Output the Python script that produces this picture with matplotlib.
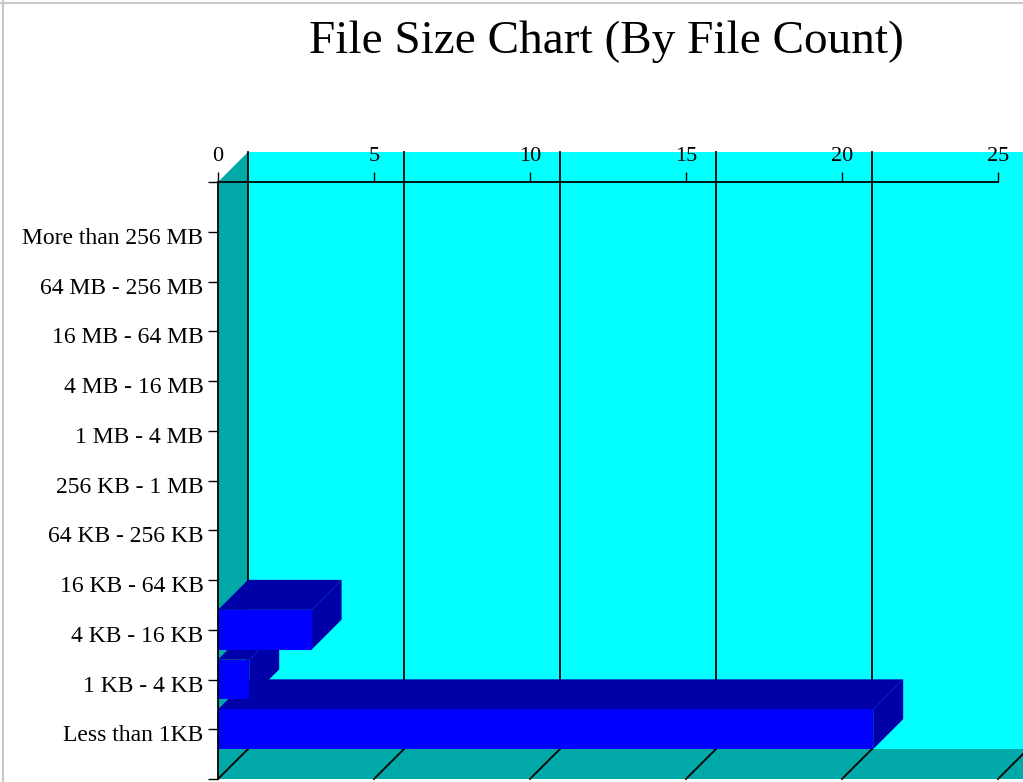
import matplotlib
matplotlib.use('Agg')
import matplotlib.pyplot as plt
import matplotlib.transforms as mtransforms
from matplotlib.patches import Polygon, Rectangle
from matplotlib.lines import Line2D

categories = ['Less than 1KB', '1 KB - 4 KB', '4 KB - 16 KB', '16 KB - 64 KB',
              '64 KB - 256 KB', '256 KB - 1 MB', '1 MB - 4 MB', '4 MB - 16 MB',
              '16 MB - 64 MB', '64 MB - 256 MB', 'More than 256 MB']
counts = [21, 1, 3, 0, 0, 0, 0, 0, 0, 0, 0]
x_ticks = [0, 5, 10, 15, 20, 25]

WALL = '#00FFFF'
SIDE = '#00A8A8'
FRONT = '#0000FF'
SHADE = '#0000A8'

plt.rcParams['font.family'] = ['Liberation Serif', 'DejaVu Serif']

W, H = 1023, 782
fig = plt.figure(figsize=(W / 100, H / 100), dpi=100)
fig.patch.set_facecolor('white')

# front plane of the plot in pixels
left, right, top, bottom = 218, 998, 182, 779
ax = fig.add_axes([left / W, (H - bottom) / H, (right - left) / W, (bottom - top) / H])
ax.patch.set_visible(False)
ax.set_xlim(0, 25)
ax.set_ylim(0, 12)

# depth offset: 30 px right and 30 px up, in data units
dx = 30 / ((right - left) / 25)
dy = 30 / ((bottom - top) / 12)
xmax = 27

# back wall, side wall, floor
ax.add_patch(Rectangle((dx, dy), xmax, 12, facecolor=WALL, edgecolor='none',
                       clip_on=False, zorder=0))
ax.add_patch(Polygon([(0, 0), (dx, dy), (dx, 12 + dy), (0, 12)], closed=True,
                     facecolor=SIDE, edgecolor='none', clip_on=False, zorder=0.5))
ax.add_patch(Polygon([(0, 0), (dx, dy), (xmax, dy), (xmax, 0)], closed=True,
                     facecolor=SIDE, edgecolor='none', clip_on=False, zorder=0.5))

# gridlines on back wall + floor diagonals
for xv in x_ticks:
    ax.plot([xv + dx, xv + dx], [dy, 12 + dy], color='black', lw=1.3,
            clip_on=False, zorder=0.8)
    ax.plot([xv, xv + dx], [0, dy], color='black', lw=1.3,
            clip_on=False, zorder=0.8)

# bars, bottom row first so upper rows overlap
h = 0.8
for i, v in enumerate(counts):
    if v == 0:
        continue
    y0 = i + 1 - h / 2
    y1 = i + 1 + h / 2
    z = 1 + i * 0.1
    ax.add_patch(Polygon([(0, y1), (dx, y1 + dy), (v + dx, y1 + dy), (v, y1)],
                         closed=True, facecolor=SHADE, edgecolor='none',
                         clip_on=False, zorder=z))
    ax.add_patch(Polygon([(v, y0), (v, y1), (v + dx, y1 + dy), (v + dx, y0 + dy)],
                         closed=True, facecolor=SHADE, edgecolor='none',
                         clip_on=False, zorder=z))
    ax.barh(i + 1, v, height=h, color=FRONT, edgecolor='none', zorder=z + 0.05)

# axes lines and ticks
for s in ['right', 'bottom']:
    ax.spines[s].set_visible(False)
ax.spines['top'].set_linewidth(1.3)
ax.spines['left'].set_linewidth(1.3)
ax.spines['top'].set_zorder(5)
ax.spines['left'].set_zorder(5)
ax.xaxis.tick_top()
ax.set_xticks(x_ticks)
ax.set_xticklabels([str(t) for t in x_ticks])
ax.set_yticks(range(0, 13))
ax.set_yticklabels([''] + categories + [''])
ax.tick_params(axis='both', direction='out', length=7.5, width=1.0, color='black',
               labelsize=16, labelcolor='black')
ax.tick_params(axis='y', pad=3, labelsize=17)
ax.tick_params(axis='x', pad=4)
shift = mtransforms.ScaledTranslation(0, -3 / 72, fig.dpi_scale_trans)
for lab in ax.get_yticklabels():
    lab.set_va('center_baseline')
    lab.set_transform(lab.get_transform() + shift)

fig.text(606 / W, 1 - 42 / H, 'File Size Chart (By File Count)', ha='center',
         va='center', fontsize=34, color='black')

# thin grey frame at top and left
fig.add_artist(Line2D([0, 1], [1 - 3 / H, 1 - 3 / H], color='#c8c8c8', lw=1.5,
                      transform=fig.transFigure))
fig.add_artist(Line2D([3 / W, 3 / W], [0, 1], color='#c8c8c8', lw=1.5,
                      transform=fig.transFigure))

fig.savefig('out.png', dpi=100)
